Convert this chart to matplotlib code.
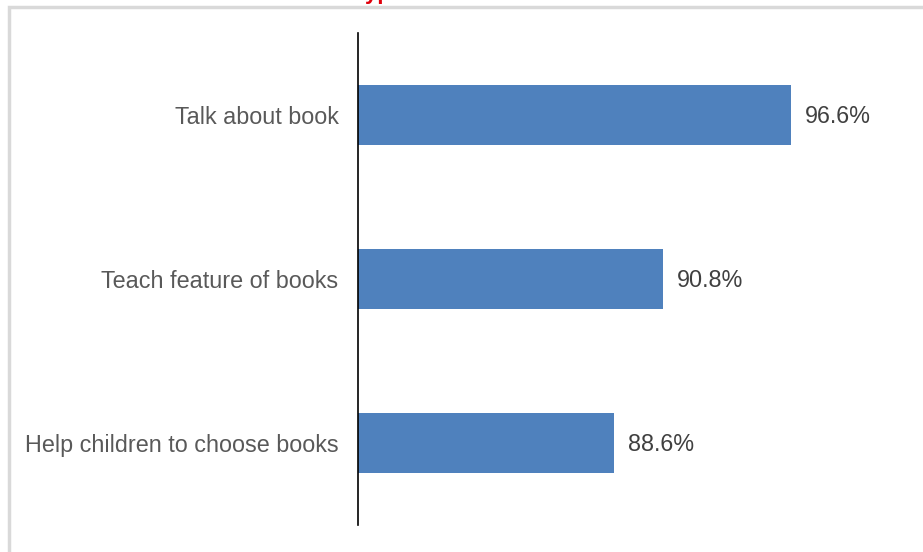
import matplotlib.pyplot as plt
from matplotlib.patches import Rectangle

# Values (percent)
categories = ['Help children to choose books', 'Teach feature of books', 'Talk about book']
values = [88.6, 90.8, 96.6]
value_labels = ['88.6%', '90.8%', '96.6%']

bar_color = '#4F81BD'
text_color = '#595959'

plt.rcParams['font.family'] = ['Liberation Sans', 'DejaVu Sans']

fig = plt.figure(figsize=(9.23, 5.52), dpi=100)

# outer chart border (partially visible, gray)
fig.add_artist(Rectangle((8.5 / 923, -0.1), 1.0, 1.1 - 6.5 / 552,
                         transform=fig.transFigure, fill=False,
                         edgecolor='#D9D9D9', linewidth=2.5))

# cut-off title at the very top
fig.text(385 / 923, 1 + 1.5 / 552, 'Types', color='#E0000B', fontsize=16,
         fontweight='bold', ha='center', va='baseline')

ax = fig.add_axes([358 / 923, 27 / 552, 530 / 923, 492 / 552])
ypos = range(len(categories))
ax.barh(ypos, [v - 77 for v in values], left=77, height=0.36, color=bar_color)
ax.set_xlim(77, 101)
ax.set_ylim(-0.5, 2.5)

for y, v, lab in zip(ypos, values, value_labels):
    ax.annotate(lab, (v, y - 0.01), xytext=(10, 0), textcoords='offset points',
                va='center', ha='left', fontsize=16.8, color='#404040')

ax.set_yticks(list(ypos))
ax.set_yticklabels(categories, fontsize=16.8, color=text_color)
ax.tick_params(axis='y', length=0, pad=14)
ax.set_xticks([])
for side in ['top', 'right', 'bottom']:
    ax.spines[side].set_visible(False)
ax.spines['left'].set_color('black')
ax.spines['left'].set_linewidth(1.2)

plt.savefig('out.png', dpi=100)
